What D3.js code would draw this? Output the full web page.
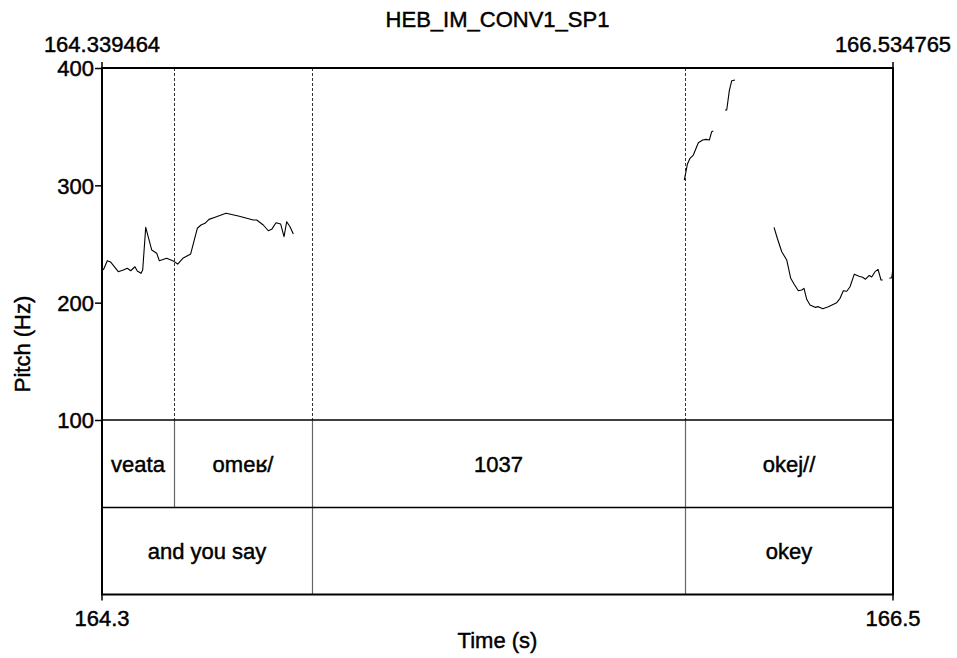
<!DOCTYPE html>
<html>
<head>
<meta charset="utf-8">
<script src="https://cdn.jsdelivr.net/npm/d3@7"></script>
<style>
  html, body { margin: 0; padding: 0; background: #fff; }
  svg { display: block; }
  text { font-family: "Liberation Sans", Arial, Helvetica, sans-serif; fill: #000; stroke: #000; stroke-width: 0.45px; }
</style>
</head>
<body>
<svg id="chart" width="957" height="658"></svg>
<script>
// ---------------- data ----------------
const title = "HEB_IM_CONV1_SP1";
const timeStart = 164.339464;
const timeEnd = 166.534765;
const timeStartLabel = "164.3";
const timeEndLabel = "166.5";
const pitchMin = 100;
const pitchMax = 400;
const yTicks = [100, 200, 300, 400];

// pitch track (null = unvoiced gap)
const pitchTimes = [
  164.3431, 164.3542, 164.3636, 164.3847, 164.3986, 164.4097, 164.4191, 164.4310, 164.4374, 164.4477,
  164.4524, 164.4608, 164.4774, 164.4913, 164.4985, 164.5190, 164.5357, 164.5496, 164.5651, 164.5856,
  164.6040, 164.6142, 164.6253, 164.6364, 164.6531, 164.6836, 164.7178, 164.7594, 164.7688, 164.7871,
  164.8010, 164.8104, 164.8224, 164.8354, 164.8446, 164.8521, 164.8613, 164.8704,
  164.8800,
  165.9556, 165.9640, 165.9714, 165.9806, 165.9945, 166.0067, 166.0159, 166.0250, 166.0316, 166.0361,
  166.0500,
  166.0686, 166.0733, 166.0805, 166.0872, 166.0963,
  166.1500,
  166.2046, 166.2137, 166.2260, 166.2398, 166.2509, 166.2601, 166.2720, 166.2815, 166.2878, 166.2953,
  166.3045, 166.3184, 166.3275, 166.3398, 166.3553, 166.3786, 166.3878, 166.3969, 166.4064, 166.4155,
  166.4274, 166.4405, 166.4502, 166.4585, 166.4688, 166.4757, 166.4849, 166.4932, 166.5015, 166.5062,
  166.5150,
  166.5246, 166.5313, 166.5347
];
const pitchHz = [
  227.8, 235.8, 234.6, 226.4, 227.8, 229.3, 227.2, 230.6, 227.0, 225.0,
  227.8, 264.2, 244.9, 242.1, 235.8, 237.8, 235.8, 232.9, 238.1, 241.5,
  263.4, 266.2, 267.6, 271.0, 272.8, 276.2, 273.9, 270.5, 270.5, 266.2,
  261.3, 262.5, 268.1, 267.0, 256.2, 269.0, 264.7, 258.5,
  null,
  304.5, 317.9, 323.0, 325.8, 336.3, 338.6, 339.2, 338.6, 345.7, 346.3,
  null,
  364.2, 364.2, 380.7, 389.2, 389.8,
  null,
  264.2, 254.9, 243.4, 236.4, 220.8, 215.9, 210.2, 210.8, 212.2, 202.9,
  198.0, 196.0, 196.6, 194.9, 196.6, 200.0, 203.7, 210.2, 209.7, 213.6,
  224.3, 222.5, 221.7, 220.0, 223.2, 221.9, 226.4, 228.4, 219.3, 219.3,
  null,
  220.8, 221.3, 229.3
];

// tier 1 (intonation units)
const tier1Bounds = [164.339464, 164.5393, 164.9223, 165.9576, 166.534765];
const tier1Labels = ["veata", "omeʁ/", "1037", "okej//"];
// tier 2 (translation)
const tier2Bounds = [164.339464, 164.9223, 165.9576, 166.534765];
const tier2Labels = ["and you say", "", "okey"];

// ---------------- layout ----------------
const left = 102, right = 893;
const pitchTop = 68, pitchBottom = 420;
const tier1Bottom = 507.5, tier2Bottom = 594.5;
const fs = 22;

const svg = d3.select("#chart");
const x = d3.scaleLinear().domain([timeStart, timeEnd]).range([left, right]);
const y = d3.scaleLinear().domain([pitchMin, pitchMax]).range([pitchBottom, pitchTop]);

// dashed boundary lines in pitch area (tier 1 inner boundaries)
const inner1 = tier1Bounds.slice(1, -1);
svg.append("g").selectAll("line").data(inner1).join("line")
  .attr("x1", d => Math.round(x(d)) + 0.5).attr("x2", d => Math.round(x(d)) + 0.5)
  .attr("y1", pitchTop).attr("y2", pitchBottom)
  .attr("stroke", "#333").attr("stroke-width", 1).attr("stroke-dasharray", "3,2");

// tier boundaries (solid, grey)
svg.append("g").selectAll("line").data(inner1).join("line")
  .attr("x1", d => Math.round(x(d)) + 0.5).attr("x2", d => Math.round(x(d)) + 0.5)
  .attr("y1", pitchBottom).attr("y2", tier1Bottom)
  .attr("stroke", "#666").attr("stroke-width", 1.2);
const inner2 = tier2Bounds.slice(1, -1);
svg.append("g").selectAll("line").data(inner2).join("line")
  .attr("x1", d => Math.round(x(d)) + 0.5).attr("x2", d => Math.round(x(d)) + 0.5)
  .attr("y1", tier1Bottom).attr("y2", tier2Bottom)
  .attr("stroke", "#666").attr("stroke-width", 1.2);

// pitch curve
const pts = pitchTimes.map((t, i) => [t, pitchHz[i]]);
const line = d3.line().defined(d => d[1] !== null).x(d => x(d[0])).y(d => y(d[1]));
svg.append("path").datum(pts)
  .attr("d", line).attr("fill", "none").attr("stroke", "#000").attr("stroke-width", 1.1)
  .attr("stroke-linejoin", "round");

// horizontal separators
[pitchBottom, tier1Bottom].forEach(yy => {
  svg.append("line").attr("x1", left).attr("x2", right).attr("y1", yy).attr("y2", yy)
    .attr("stroke", "#000").attr("stroke-width", 1.3);
});

// frame
svg.append("rect").attr("x", left).attr("y", pitchTop)
  .attr("width", right - left).attr("height", tier2Bottom - pitchTop)
  .attr("fill", "none").attr("stroke", "#000").attr("stroke-width", 2);

// y axis
const yAxis = d3.axisLeft(y).tickValues(yTicks).tickSize(7).tickPadding(1).tickFormat(d3.format("d"));
const gy = svg.append("g").attr("transform", `translate(${left},0)`).call(yAxis);
gy.select(".domain").remove();
gy.selectAll(".tick line").attr("stroke", "#000").attr("stroke-width", 1.5);
gy.selectAll(".tick text").attr("font-size", fs).attr("font-family", null).attr("fill", null).attr("dy", "0.36em");

// top/bottom time ticks
[timeStart, timeEnd].forEach(t => {
  svg.append("line").attr("x1", x(t)).attr("x2", x(t)).attr("y1", pitchTop - 6).attr("y2", pitchTop)
    .attr("stroke", "#000").attr("stroke-width", 1.5);
  svg.append("line").attr("x1", x(t)).attr("x2", x(t)).attr("y1", tier2Bottom).attr("y2", tier2Bottom + 6)
    .attr("stroke", "#000").attr("stroke-width", 1.5);
});

// top time labels
svg.append("text").attr("x", x(timeStart)).attr("y", 52).attr("text-anchor", "middle")
  .attr("font-size", fs).text(timeStart.toFixed(6));
svg.append("text").attr("x", x(timeEnd)).attr("y", 52).attr("text-anchor", "middle")
  .attr("font-size", fs).text(timeEnd.toFixed(6));
// bottom time labels
svg.append("text").attr("x", x(timeStart)).attr("y", 626).attr("text-anchor", "middle")
  .attr("font-size", fs).text(timeStartLabel);
svg.append("text").attr("x", x(timeEnd)).attr("y", 626).attr("text-anchor", "middle")
  .attr("font-size", fs).text(timeEndLabel);

// title & axis titles
svg.append("text").attr("x", (left + right) / 2).attr("y", 27).attr("text-anchor", "middle")
  .attr("font-size", fs).text(title);
svg.append("text").attr("x", (left + right) / 2).attr("y", 648).attr("text-anchor", "middle")
  .attr("font-size", fs).text("Time (s)");
svg.append("text").attr("transform", `translate(30,${(pitchTop + pitchBottom) / 2 + 100}) rotate(-90)`)
  .attr("text-anchor", "middle").attr("font-size", fs).text("Pitch (Hz)");

// tier labels
function drawTier(bounds, labels, y0, y1) {
  const mids = labels.map((l, i) => ({ l, m: (bounds[i] + bounds[i + 1]) / 2 }));
  svg.append("g").selectAll("text").data(mids).join("text")
    .attr("x", d => x(d.m)).attr("y", (y0 + y1) / 2).attr("dy", "0.36em")
    .attr("text-anchor", "middle").attr("font-size", fs).text(d => d.l);
}
drawTier(tier1Bounds, tier1Labels, pitchBottom, tier1Bottom);
drawTier(tier2Bounds, tier2Labels, tier1Bottom, tier2Bottom);
</script>
</body>
</html>
